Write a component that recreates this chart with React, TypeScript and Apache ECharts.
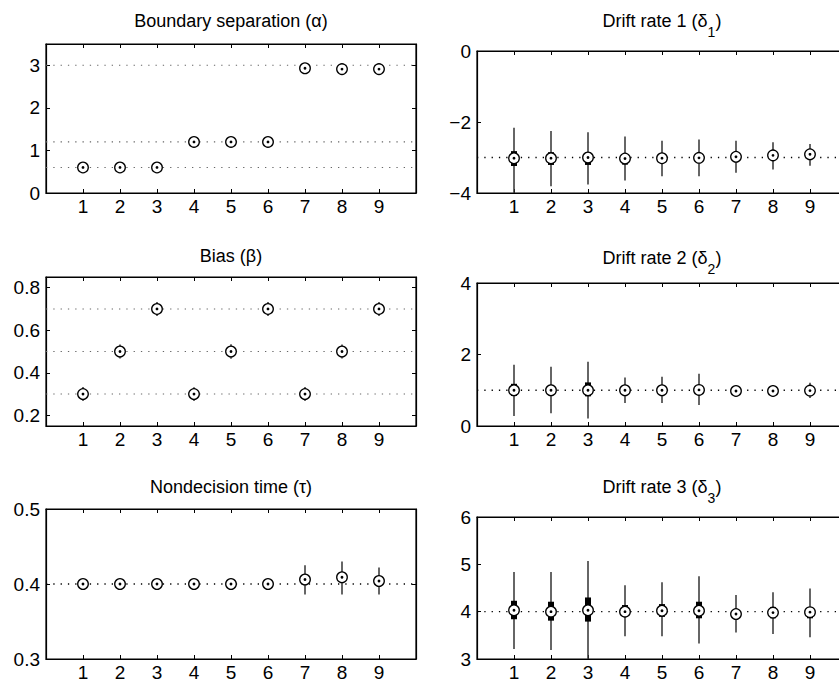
import React, { useEffect, useRef } from "react";
import * as echarts from "echarts";

// ---------- data ----------
const conditions = [1, 2, 3, 4, 5, 6, 7, 8, 9];
const xTickValues = [1, 2, 3, 4, 5, 6, 7, 8, 9];

// Boundary separation (alpha)
const alphaTrue = [0.6, 1.2, 3];
const alphaMed = [0.6, 0.6, 0.6, 1.2, 1.2, 1.2, 2.93, 2.91, 2.91];
const alphaLo = [0.56, 0.56, 0.56, 1.15, 1.15, 1.15, 2.86, 2.85, 2.85];
const alphaQ1 = [0.58, 0.58, 0.58, 1.18, 1.18, 1.18, 2.9, 2.88, 2.88];
const alphaQ3 = [0.62, 0.62, 0.62, 1.22, 1.22, 1.22, 2.96, 2.94, 2.94];
const alphaHi = [0.64, 0.64, 0.64, 1.25, 1.25, 1.25, 3.0, 2.98, 2.98];
const alphaTicks = [0, 1, 2, 3];

// Drift rate 1
const d1True = [-3];
const d1Med = [-3.02, -3.02, -3.0, -3.03, -3.02, -3.01, -2.98, -2.94, -2.91];
const d1Lo = [-4.0, -3.81, -3.76, -3.65, -3.53, -3.53, -3.43, -3.34, -3.23];
const d1Q1 = [-3.24, -3.21, -3.21, -3.2, -3.1, -3.08, -3.06, -3.02, -2.99];
const d1Q3 = [-2.82, -2.85, -2.86, -2.93, -2.96, -2.96, -2.92, -2.88, -2.85];
const d1Hi = [-2.16, -2.25, -2.29, -2.41, -2.53, -2.49, -2.53, -2.57, -2.62];
const d1Ticks = [-4, -2, 0];

// Bias (beta)
const betaTrue = [0.3, 0.5, 0.7];
const betaMed = [0.3, 0.5, 0.7, 0.3, 0.5, 0.7, 0.3, 0.5, 0.7];
const betaLo = [0.267, 0.467, 0.667, 0.268, 0.466, 0.667, 0.267, 0.467, 0.667];
const betaQ1 = [0.29, 0.49, 0.69, 0.29, 0.49, 0.69, 0.29, 0.49, 0.69];
const betaQ3 = [0.31, 0.51, 0.71, 0.31, 0.51, 0.71, 0.31, 0.51, 0.71];
const betaHi = [0.333, 0.533, 0.733, 0.332, 0.534, 0.733, 0.333, 0.533, 0.733];
const betaTicks = [0.2, 0.4, 0.6, 0.8];

// Drift rate 2
const d2True = [1];
const d2Med = [1.0, 1.0, 1.0, 1.0, 1.0, 1.01, 0.98, 0.98, 0.99];
const d2Lo = [0.28, 0.36, 0.21, 0.64, 0.64, 0.59, 0.84, 0.82, 0.78];
const d2Q1 = [0.84, 0.86, 0.83, 0.9, 0.9, 0.89, 0.93, 0.93, 0.93];
const d2Q3 = [1.18, 1.15, 1.22, 1.1, 1.1, 1.12, 1.04, 1.04, 1.05];
const d2Hi = [1.71, 1.66, 1.8, 1.36, 1.38, 1.46, 1.13, 1.15, 1.21];
const d2Ticks = [0, 2, 4];

// Nondecision time (tau)
const tauTrue = [0.4];
const tauMed = [0.4, 0.4, 0.4, 0.4, 0.4, 0.4, 0.406, 0.409, 0.404];
const tauLo = [0.398, 0.398, 0.398, 0.398, 0.398, 0.398, 0.386, 0.386, 0.386];
const tauQ1 = [0.399, 0.399, 0.399, 0.399, 0.399, 0.399, 0.401, 0.404, 0.399];
const tauQ3 = [0.401, 0.401, 0.401, 0.401, 0.401, 0.401, 0.411, 0.414, 0.409];
const tauHi = [0.402, 0.402, 0.402, 0.402, 0.402, 0.402, 0.425, 0.43, 0.422];
const tauTicks = [0.3, 0.4, 0.5];

// Drift rate 3
const d3True = [4];
const d3Med = [4.03, 4.0, 4.03, 4.0, 4.02, 4.02, 3.95, 3.98, 3.99];
const d3Lo = [3.21, 3.19, 3.0, 3.48, 3.48, 3.33, 3.56, 3.53, 3.46];
const d3Q1 = [3.84, 3.81, 3.79, 3.89, 3.89, 3.86, 3.9, 3.86, 3.86];
const d3Q3 = [4.23, 4.21, 4.3, 4.14, 4.16, 4.21, 4.02, 4.1, 4.09];
const d3Hi = [4.84, 4.84, 5.07, 4.56, 4.62, 4.75, 4.35, 4.41, 4.49];
const d3Ticks = [3, 4, 5, 6];

const titles = [
  "{m|Boundary separation (α)}",
  "{m|Drift rate 1 (δ}{s|1}{m|)}",
  "{m|Bias (β)}",
  "{m|Drift rate 2 (δ}{s|2}{m|)}",
  "{m|Nondecision time (τ)}",
  "{m|Drift rate 3 (δ}{s|3}{m|)}",
];

// ---------- layout / style ----------
const FONT = "'Liberation Sans', Arial, Helvetica, sans-serif";
const PW = 370;
const layouts = [
  { left: 46, top: 44, height: 149, titleTop: 12 },
  { left: 477, top: 51, height: 142, titleTop: 12 },
  { left: 46, top: 277, height: 149, titleTop: 246.5 },
  { left: 477, top: 283, height: 143, titleTop: 248.5 },
  { left: 46, top: 509, height: 150, titleTop: 477.5 },
  { left: 477, top: 517, height: 142, titleTop: 478 },
];

const panels = [
  { min: 0, max: 3.5, ticks: alphaTicks, dec: 0, ref: alphaTrue, refColor: "#666", med: alphaMed, lo: alphaLo, q1: alphaQ1, q3: alphaQ3, hi: alphaHi },
  { min: -4, max: 0, ticks: d1Ticks, dec: 0, ref: d1True, refColor: "#000", med: d1Med, lo: d1Lo, q1: d1Q1, q3: d1Q3, hi: d1Hi },
  { min: 0.15, max: 0.85, ticks: betaTicks, dec: 1, ref: betaTrue, refColor: "#666", med: betaMed, lo: betaLo, q1: betaQ1, q3: betaQ3, hi: betaHi },
  { min: 0, max: 4, ticks: d2Ticks, dec: 0, ref: d2True, refColor: "#000", med: d2Med, lo: d2Lo, q1: d2Q1, q3: d2Q3, hi: d2Hi },
  { min: 0.3, max: 0.5, ticks: tauTicks, dec: 1, ref: tauTrue, refColor: "#000", med: tauMed, lo: tauLo, q1: tauQ1, q3: tauQ3, hi: tauHi },
  { min: 3, max: 6, ticks: d3Ticks, dec: 0, ref: d3True, refColor: "#000", med: d3Med, lo: d3Lo, q1: d3Q1, q3: d3Q3, hi: d3Hi },
];

function buildOption() {
  const grid: any[] = [];
  const xAxis: any[] = [];
  const yAxis: any[] = [];
  const series: any[] = [];
  const graphic: any[] = [];

  panels.forEach((p, i) => {
    const L = layouts[i];
    grid.push({
      left: L.left,
      top: L.top,
      width: PW,
      height: L.height,
      show: true,
      borderColor: "#000",
      borderWidth: 1.2,
      backgroundColor: "transparent",
      containLabel: false,
      outerBoundsMode: "none",
    });
    const tickStyle = { color: "#000", width: 1 };
    const labelStyle = { fontSize: 19, color: "#000", fontFamily: FONT };
    xAxis.push({
      gridIndex: i,
      type: "value",
      min: 0,
      max: 10,
      position: "bottom",
      axisLine: { show: true, onZero: false, lineStyle: { color: "#000", width: 1.2 } },
      axisTick: { show: true, inside: true, length: 4, customValues: xTickValues, lineStyle: tickStyle },
      axisLabel: { ...labelStyle, customValues: xTickValues, margin: 4 },
      splitLine: { show: false },
    });
    xAxis.push({
      gridIndex: i,
      type: "value",
      min: 0,
      max: 10,
      position: "top",
      axisLine: { show: true, onZero: false, lineStyle: { color: "#000", width: 1.2 } },
      axisTick: { show: true, inside: true, length: 4, customValues: xTickValues, lineStyle: tickStyle },
      axisLabel: { show: false },
      splitLine: { show: false },
    });
    yAxis.push({
      gridIndex: i,
      type: "value",
      min: p.min,
      max: p.max,
      position: "left",
      axisLine: { show: true, onZero: false, lineStyle: { color: "#000", width: 1.2 } },
      axisTick: { show: true, inside: true, length: 4, customValues: p.ticks, lineStyle: tickStyle },
      axisLabel: {
        ...labelStyle,
        customValues: p.ticks,
        margin: 6,
        formatter: (v: number) => v.toFixed(p.dec).replace("-", "\u2212"),
      },
      splitLine: { show: false },
    });
    yAxis.push({
      gridIndex: i,
      type: "value",
      min: p.min,
      max: p.max,
      position: "right",
      axisLine: { show: true, onZero: false, lineStyle: { color: "#000", width: 1.2 } },
      axisTick: { show: true, inside: true, length: 4, customValues: p.ticks, lineStyle: tickStyle },
      axisLabel: { show: false },
      splitLine: { show: false },
    });

    p.ref.forEach((v) => {
      series.push({
        type: "line",
        xAxisIndex: 2 * i,
        yAxisIndex: 2 * i,
        data: [
          [0, v],
          [10, v],
        ],
        symbol: "none",
        silent: true,
        z: 1,
        lineStyle: {
          color: p.refColor,
          width: p.refColor === "#000" ? 1.3 : 1.1,
          type: [1.3, 6],
        },
      });
    });

    series.push({
      type: "custom",
      xAxisIndex: 2 * i,
      yAxisIndex: 2 * i,
      z: 3,
      silent: true,
      data: conditions.map((c, k) => [c, p.lo[k], p.q1[k], p.med[k], p.q3[k], p.hi[k]]),
      renderItem: (_params: any, api: any) => {
        const x = api.value(0);
        const lo = api.coord([x, api.value(1)]);
        const q1 = api.coord([x, api.value(2)]);
        const md = api.coord([x, api.value(3)]);
        const q3 = api.coord([x, api.value(4)]);
        const hi = api.coord([x, api.value(5)]);
        return {
          type: "group",
          children: [
            { type: "line", shape: { x1: lo[0], y1: lo[1], x2: hi[0], y2: hi[1] }, style: { stroke: "#333", lineWidth: 1.5 } },
            { type: "line", shape: { x1: q1[0], y1: q1[1], x2: q3[0], y2: q3[1] }, style: { stroke: "#000", lineWidth: 6 } },
            { type: "circle", shape: { cx: md[0], cy: md[1], r: 5.3 }, style: { fill: "#fff", stroke: "#000", lineWidth: 1.3 } },
            { type: "circle", shape: { cx: md[0], cy: md[1], r: 1.4 }, style: { fill: "#000" } },
          ],
        };
      },
    });

    graphic.push({
      type: "text",
      x: L.left + PW / 2,
      y: L.titleTop,
      silent: true,
      style: {
        text: titles[i],
        textAlign: "center",
        textVerticalAlign: "top",
        align: "center",
        verticalAlign: "top",
        fill: "#000",
        rich: {
          m: { fontSize: 18, fontFamily: FONT, lineHeight: 18, verticalAlign: "top", fill: "#000", color: "#000" },
          s: { fontSize: 14, fontFamily: FONT, lineHeight: 14, padding: [13, 0, 0, 0], verticalAlign: "top", fill: "#000", color: "#000" },
        },
      },
    });
  });

  return {
    animation: false,
    backgroundColor: "#fff",
    grid,
    xAxis,
    yAxis,
    series,
    graphic,
  };
}

export default function App() {
  const ref = useRef<HTMLDivElement>(null);
  useEffect(() => {
    if (!ref.current) return;
    const chart = echarts.init(ref.current, undefined, { renderer: "svg" });
    chart.setOption(buildOption() as any);
    return () => chart.dispose();
  }, []);
  return (
    <div
      ref={ref}
      style={{ position: "fixed", left: 0, top: 0, width: 839, height: 680, background: "#fff" }}
    />
  );
}
